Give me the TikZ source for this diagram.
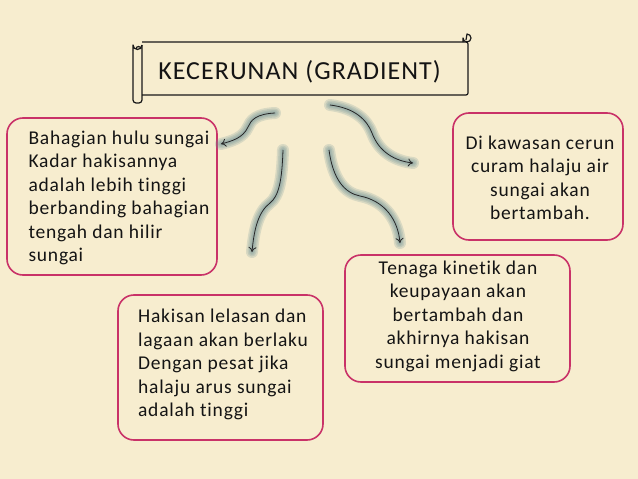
\documentclass[tikz,border=0pt]{standalone}
\usepackage{fontspec}
\setmainfont{Carlito}[Ligatures=NoCommon, LetterSpace=4]
\usetikzlibrary{arrows.meta}
\definecolor{parch}{HTML}{F7EDCF}
\definecolor{pinkb}{HTML}{C93268}
\definecolor{glowc}{HTML}{6F9298}
\tikzset{
  box/.style={draw=pinkb, line width=1.6pt, rounded corners=16pt, inner sep=0pt},
  txt/.style={inner sep=0pt, font=\fontsize{19.5}{23.5}\selectfont, text=black!92},
  glow/.style={draw=glowc, line width=#1, opacity=0.22, line cap=round},
  curvarrow/.style={draw=black!85, line width=0.8pt, -{To[length=5pt,width=8pt]}},
  scrollline/.style={draw=black!90, line width=1.2pt, line join=round}
}
\begin{document}
\begin{tikzpicture}[x=1pt,y=-1pt]
\fill[parch] (0,0) rectangle (638,479);
\useasboundingbox (0,0) rectangle (638,479);

% scroll title
\draw[scrollline, rounded corners=2pt] (142,42) -- (463,42) -- (468,42) -- (468,95) -- (142,95);
\draw[scrollline] (463,42) -- (463,38) arc[start angle=180, end angle=-90, radius=4] -- (466,40);
\draw[scrollline, rounded corners=3pt] (133,50) -- (133,103) -- (142,103) -- (142,45);
\draw[scrollline] (142,45) arc[start angle=0, end angle=180, radius=4.5] -- (133,50);
\draw[scrollline] (136,49) arc[start angle=180, end angle=360, radius=2.5];
\node[inner sep=0pt, font=\fontsize{26}{30}\selectfont, text=black!92] (title) at (299.5,72) {KECERUNAN (GRADIENT)};

% boxes
\node[box, minimum width=210pt, minimum height=157pt] (left) at (112,196.5) {};
\node[txt, align=left] (lefttext) at (119,198) {Bahagian hulu sungai\\Kadar hakisannya\\adalah lebih tinggi\\berbanding bahagian\\tengah dan hilir\\sungai};

\node[box, minimum width=170pt, minimum height=127pt] (right) at (538,176.5) {};
\node[txt, align=center] (righttext) at (540,178) {Di kawasan cerun\\curam halaju air\\sungai akan\\bertambah.};

\node[box, minimum width=205pt, minimum height=145pt] (bcenter) at (220.5,367.5) {};
\node[txt, align=left] (bcentertext) at (223,364.5) {Hakisan lelasan dan\\lagaan akan berlaku\\Dengan pesat jika\\halaju arus sungai\\adalah tinggi};

\node[box, minimum width=225pt, minimum height=127pt] (bright) at (457.5,318.5) {};
\node[txt, align=center] (brighttext) at (458,316) {Tenaga kinetik dan\\keupayaan akan\\bertambah dan\\akhirnya hakisan\\sungai menjadi giat};

% arrow end points
\coordinate (a1s) at (275,113); \coordinate (a1e) at (221,144);
\coordinate (a2s) at (283,150); \coordinate (a2e) at (252,252);
\coordinate (a3s) at (330,105); \coordinate (a3e) at (413,163);
\coordinate (a4s) at (329,150); \coordinate (a4e) at (400,243);

\foreach \w in {12pt,9pt,6pt,3.5pt}{
  \path[glow=\w] (a1s) .. controls (256,114) and (251,120) .. (248,127) .. controls (243,138) and (232,141) .. (a1e);
  \path[glow=\w] (a2s) .. controls (282,180) and (279,196) .. (270,203) .. controls (258,212) and (254,230) .. (a2e);
  \path[glow=\w] (a3s) .. controls (355,108) and (367,120) .. (372,133) .. controls (379,152) and (395,161) .. (a3e);
  \path[glow=\w] (a4s) .. controls (333,180) and (345,193) .. (360,196) .. controls (385,201) and (398,220) .. (a4e);
}
\draw[curvarrow] (a1s) .. controls (256,114) and (251,120) .. (248,127) .. controls (243,138) and (232,141) .. (a1e);
\draw[curvarrow] (a2s) .. controls (282,180) and (279,196) .. (270,203) .. controls (258,212) and (254,230) .. (a2e);
\draw[curvarrow] (a3s) .. controls (355,108) and (367,120) .. (372,133) .. controls (379,152) and (395,161) .. (a3e);
\draw[curvarrow] (a4s) .. controls (333,180) and (345,193) .. (360,196) .. controls (385,201) and (398,220) .. (a4e);
\end{tikzpicture}
\end{document}
